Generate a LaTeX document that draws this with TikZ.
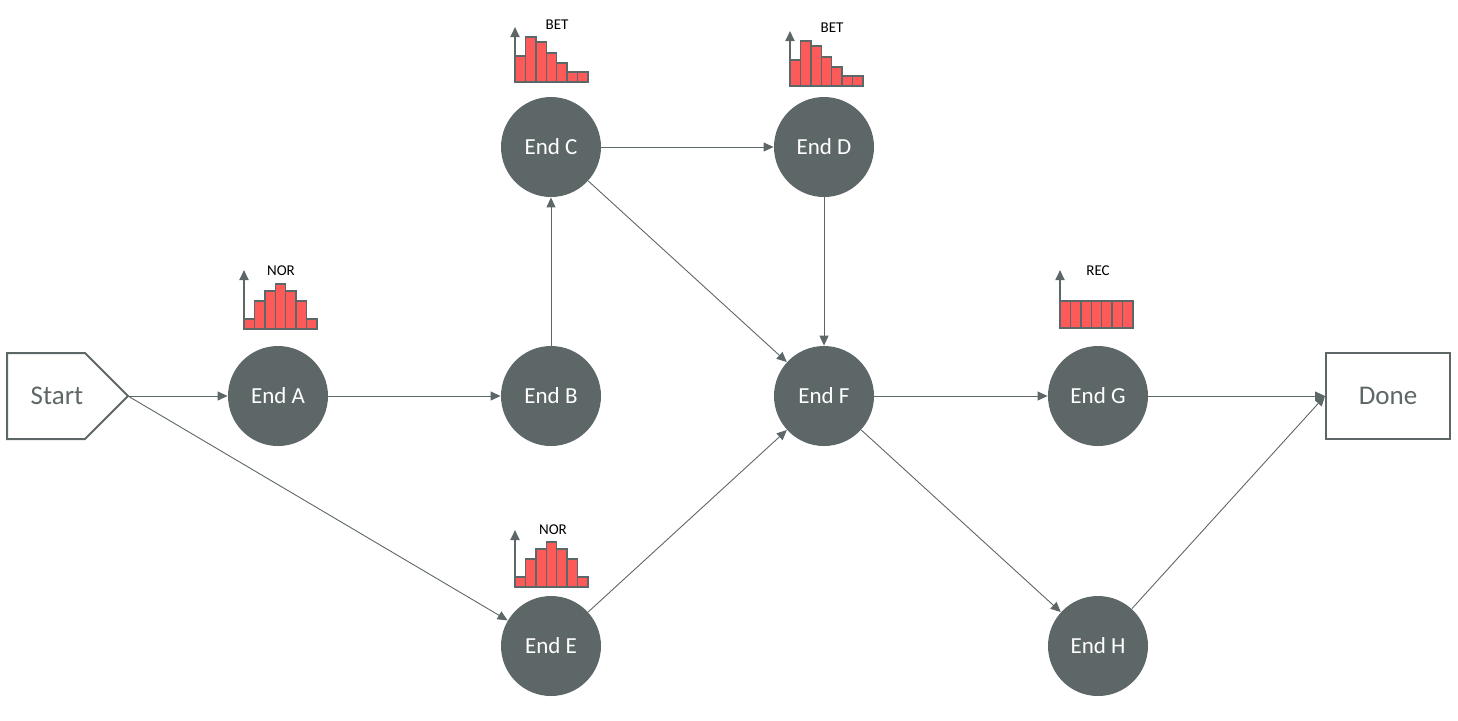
\documentclass[tikz,border=0pt]{standalone}
\usepackage{fontspec}
\setmainfont{Carlito}
\usetikzlibrary{arrows.meta}
\definecolor{SlateGrey}{HTML}{5E6767}
\definecolor{BarRed}{HTML}{FF5A5A}

\begin{document}
\begin{tikzpicture}[x=0.5pt, y=-0.5pt,
  endnode/.style={circle, fill=SlateGrey, text=white, minimum size=50pt,
                  inner sep=0pt, font=\fontsize{11.5}{13}\selectfont},
  termbox/.style={draw=SlateGrey, line width=1pt, minimum width=62pt,
                  minimum height=43pt, text=SlateGrey,
                  font=\fontsize{13.5}{15}\selectfont},
  arr/.style={-{Triangle[length=5pt, width=4.5pt]}, SlateGrey, line width=0.45pt},
  bar/.style={draw=SlateGrey, fill=BarRed, line width=0.7pt},
  axis/.style={-{Triangle[length=5pt, width=4.5pt]}, SlateGrey, line width=0.9pt},
  tag/.style={font=\fontsize{7.5}{9}\selectfont, inner sep=0pt},
]
  \useasboundingbox (0,0) rectangle (1458,720);

  % start marker
  \draw[SlateGrey, line width=1pt] (7,353) -- (85,353) -- (128,396)
    -- (85,439) -- (7,439) -- cycle;
  \node[text=SlateGrey, font=\fontsize{13.5}{15}\selectfont] (start) at (57,396) {Start};
  \coordinate (starttip) at (128,396);

  \node[endnode] (endA) at (278,396) {End A};
  \node[endnode] (endB) at (551,396) {End B};
  \node[endnode] (endC) at (551,147) {End C};
  \node[endnode] (endD) at (824,147) {End D};
  \node[endnode] (endE) at (551,646) {End E};
  \node[endnode] (endF) at (824,396) {End F};
  \node[endnode] (endG) at (1098,396) {End G};
  \node[endnode] (endH) at (1098,646) {End H};
  \node[termbox] (done) at (1388,396) {Done};

  \draw[arr] (starttip) -- (endA);
  \draw[arr] (starttip) -- (endE);
  \draw[arr] (endA) -- (endB);
  \draw[arr] (endB) -- (endC);
  \draw[arr] (endC) -- (endD);
  \draw[arr] (endC) -- (endF);
  \draw[arr] (endD) -- (endF);
  \draw[arr] (endE) -- (endF);
  \draw[arr] (endF) -- (endG);
  \draw[arr] (endF) -- (endH);
  \draw[arr] (endG) -- (done.west);
  \draw[arr] (endH) -- (done.west);

  % distributions
  \foreach \h [count=\i from 0] in {10,28,38,45,38,28,10}
    \draw[bar] (244+\i*10.4,329) rectangle ++(10.4,-\h);
  \draw[axis] (244,329) -- (244,270);
  \node[tag] (distA) at (281,271) {NOR};

  \foreach \h [count=\i from 0] in {26,45,40,29,19,10,10}
    \draw[bar] (515+\i*10.4,82) rectangle ++(10.4,-\h);
  \draw[axis] (515,82) -- (515,27);
  \node[tag] (distC) at (557,25) {BET};

  \foreach \h [count=\i from 0] in {26,45,40,29,19,10,10}
    \draw[bar] (790+\i*10.4,86) rectangle ++(10.4,-\h);
  \draw[axis] (790,86) -- (790,31);
  \node[tag] (distD) at (832,28) {BET};

  \foreach \h [count=\i from 0] in {10,28,38,45,38,28,10}
    \draw[bar] (515+\i*10.4,587) rectangle ++(10.4,-\h);
  \draw[axis] (515,587) -- (515,530);
  \node[tag] (distE) at (553,530) {NOR};

  \foreach \h [count=\i from 0] in {27,27,27,27,27,27,27}
    \draw[bar] (1060+\i*10.4,328) rectangle ++(10.4,-\h);
  \draw[axis] (1060,328) -- (1060,270);
  \node[tag] (distG) at (1098,271) {REC};
\end{tikzpicture}
\end{document}
